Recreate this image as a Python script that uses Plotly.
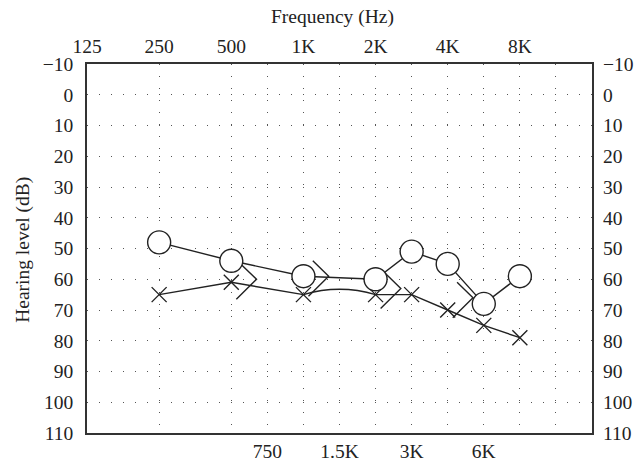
import math
import plotly.graph_objects as go

# ---------------- data ----------------
freqs = [250, 500, 1000, 2000, 3000, 4000, 6000, 8000]
right_ac = [48, 54, 59, 60, 51, 55, 68, 59]      # circles
left_ac = [65, 61, 65, 65, 65, 70, 75, 79]       # crosses
bc_freqs = [500, 1000, 2000, 4000]
left_bc = [60, 59, 63, 66]                       # ">" symbols

top_tick_freqs = [125, 250, 500, 1000, 2000, 4000, 8000]
top_tick_text = ["125", "250", "500", "1K", "2K", "4K", "8K"]
grid_freqs = [250, 500, 750, 1000, 1500, 2000, 3000, 4000, 6000, 8000, 12000]
bottom_label_freqs = [750, 1500, 3000, 6000]
bottom_label_text = ["750", "1.5K", "3K", "6K"]
db_ticks = list(range(-10, 111, 10))


def pos(f):
    """Audiogram x position: octaves above 125 Hz, mid-octave freqs at half steps."""
    return round(math.log2(f / 125.0) * 2) / 2.0


INK = "#222222"
FONT = dict(family="Liberation Serif, Times New Roman, serif", size=19.5, color=INK)

fig = go.Figure()

# crosses: lines (segment 1K-2K is drawn as an arc below)
xs = [pos(f) for f in freqs]
i1k = freqs.index(1000)
i2k = freqs.index(2000)
fig.add_trace(go.Scatter(x=xs[: i1k + 1], y=left_ac[: i1k + 1], mode="lines",
                         line=dict(color=INK, width=1.4), showlegend=False, hoverinfo="skip"))
fig.add_trace(go.Scatter(x=xs[i2k:], y=left_ac[i2k:], mode="lines",
                         line=dict(color=INK, width=1.4), showlegend=False, hoverinfo="skip"))
fig.add_trace(go.Scatter(x=xs, y=left_ac, mode="markers",
                         marker=dict(symbol="x-thin", size=15,
                                     line=dict(color=INK, width=1.4)),
                         showlegend=False))

# arc from 1K to 2K (cross series)
ax0, ay0 = xs[i1k], left_ac[i1k]
ax1, ay1 = xs[i2k], left_ac[i2k]
cx, cy = (ax0 + ax1) / 2, (ay0 + ay1) / 2 - 3.5
fig.add_shape(type="path", xref="x", yref="y",
              path=f"M {ax0},{ay0} Q {cx},{cy} {ax1},{ay1}",
              line=dict(color=INK, width=1.4))

# bone conduction ">" symbols
bx, by = [], []
for f, v in zip(bc_freqs, left_bc):
    vx = pos(f) + 0.35
    bx += [vx - 0.22, vx, vx - 0.28, None]
    by += [v - 5.0, v, v + 6.5, None]
fig.add_trace(go.Scatter(x=bx, y=by, mode="lines",
                         line=dict(color=INK, width=1.4), showlegend=False, hoverinfo="skip"))

# circles
fig.add_trace(go.Scatter(x=xs, y=right_ac, mode="lines+markers",
                         line=dict(color=INK, width=1.4),
                         marker=dict(symbol="circle", size=23, color="white",
                                     line=dict(color=INK, width=1.4)),
                         showlegend=False))

# invisible trace to activate secondary axes
fig.add_trace(go.Scatter(x=[None], y=[None], xaxis="x2", yaxis="y2", showlegend=False))

grid_pos = [pos(f) for f in grid_freqs]
bottom_map = dict(zip([pos(f) for f in bottom_label_freqs], bottom_label_text))
bottom_text = [bottom_map.get(p, "") for p in grid_pos]

GRID = dict(gridcolor="#555555", gridwidth=1, griddash="1px,11px")
db_text = [("\u221210" if t < 0 else str(t)) for t in db_ticks]

fig.update_layout(
    width=634, height=464,
    margin=dict(l=87, r=42, t=64, b=31, autoexpand=False),
    plot_bgcolor="white", paper_bgcolor="white",
    font=FONT,
    xaxis=dict(range=[0, 7], tickmode="array", tickvals=grid_pos, ticktext=bottom_text,
               showgrid=True, **GRID, zeroline=False, ticks="",
               showline=True, linecolor="#333333", linewidth=1.5, mirror=True,
               tickfont=FONT, fixedrange=True, automargin=False, ticklabelstandoff=0),
    xaxis2=dict(range=[0, 7], overlaying="x", side="top", tickmode="array",
                tickvals=[pos(f) for f in top_tick_freqs], ticktext=top_tick_text,
                showgrid=False, zeroline=False, ticks="", showline=False,
                tickfont=FONT, automargin=False, ticklabelstandoff=6),
    yaxis=dict(range=[110, -10], tickmode="array", tickvals=db_ticks, ticktext=db_text,
               showgrid=True, **GRID, zeroline=False, ticks="",
               showline=True, linecolor="#333333", linewidth=1.5, mirror=True,
               tickfont=FONT, automargin=False, ticklabelstandoff=8),
    yaxis2=dict(range=[110, -10], overlaying="y", side="right", tickmode="array",
                tickvals=db_ticks, ticktext=db_text,
                showgrid=False, zeroline=False, ticks="", showline=False,
                tickfont=FONT, automargin=False, ticklabelstandoff=10),
    annotations=[
        dict(text="Frequency (Hz)", xref="paper", yref="paper", x=0.486, y=1.127,
             xanchor="center", yanchor="middle", showarrow=False, font=FONT),
        dict(text="Hearing level (dB)", xref="paper", yref="paper", x=-0.127, y=0.496,
             xanchor="center", yanchor="middle", textangle=-90, showarrow=False, font=FONT),
    ],
)

fig.write_html(
    "out.html",
    config={"displayModeBar": False},
    post_script="document.body.style.margin='0';document.body.style.overflow='hidden';",
)
